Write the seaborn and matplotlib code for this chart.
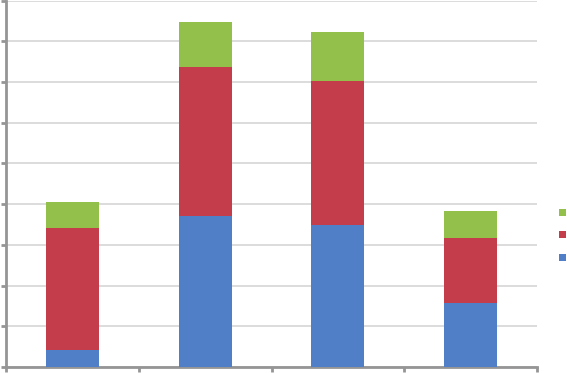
import matplotlib
matplotlib.use("Agg")
import matplotlib.pyplot as plt
import seaborn as sns
import numpy as np
import pandas as pd
from matplotlib.patches import Rectangle

categories = ["A", "B", "C", "D"]
series1 = [2.1, 18.6, 17.4, 7.9]    # blue (bottom)
series2 = [15.0, 18.2, 17.7, 8.0]   # red (middle)
series3 = [3.1, 5.6, 6.0, 3.2]      # green (top)
yticks = [0, 5, 10, 15, 20, 25, 30, 35, 40, 45]

colors = {"s1": "#517FC7", "s2": "#C33E4A", "s3": "#93C04A"}

sns.set_theme(style="white")
W, H = 567, 373
fig = plt.figure(figsize=(W / 100, H / 100), dpi=100)
ax = fig.add_axes([6 / W, 6 / H, (537 - 6) / W, 366.5 / H])

df = pd.DataFrame({"cat": categories, "s1": series1, "s2": series2, "s3": series3})
df["c2"] = df["s1"] + df["s2"]
df["c3"] = df["c2"] + df["s3"]

for col, key in [("c3", "s3"), ("c2", "s2"), ("s1", "s1")]:
    sns.barplot(data=df, x="cat", y=col, color=colors[key], width=0.4,
                saturation=1, ax=ax, edgecolor="none", linewidth=0, zorder=3)

ax.set_xlim(-0.5, 3.5)
ax.set_ylim(0, 45)
ax.set_yticks(yticks)
ax.set_yticklabels([])
ax.set_xticks([-0.5, 0.5, 1.5, 2.5, 3.5])
ax.set_xticklabels([])
ax.set_xlabel("")
ax.set_ylabel("")
ax.yaxis.grid(True, color="#D9D9D9", linewidth=1.3, zorder=0)
ax.set_axisbelow(True)
for s in ["top", "right"]:
    ax.spines[s].set_visible(False)
for s in ["left", "bottom"]:
    ax.spines[s].set_color("#959595")
    ax.spines[s].set_linewidth(2)
ax.tick_params(axis="both", which="both", direction="out", colors="#959595",
               width=2, length=3.5, left=True, bottom=True)

# legend keys (no text)
for yc, key in [(212, "s3"), (234, "s2"), (257, "s1")]:
    fig.patches.append(Rectangle(((559) / W, (H - yc - 3.5) / H), 7 / W, 7 / H,
                                 transform=fig.transFigure, facecolor=colors[key],
                                 edgecolor="none"))

fig.savefig("out.png", dpi=100)
